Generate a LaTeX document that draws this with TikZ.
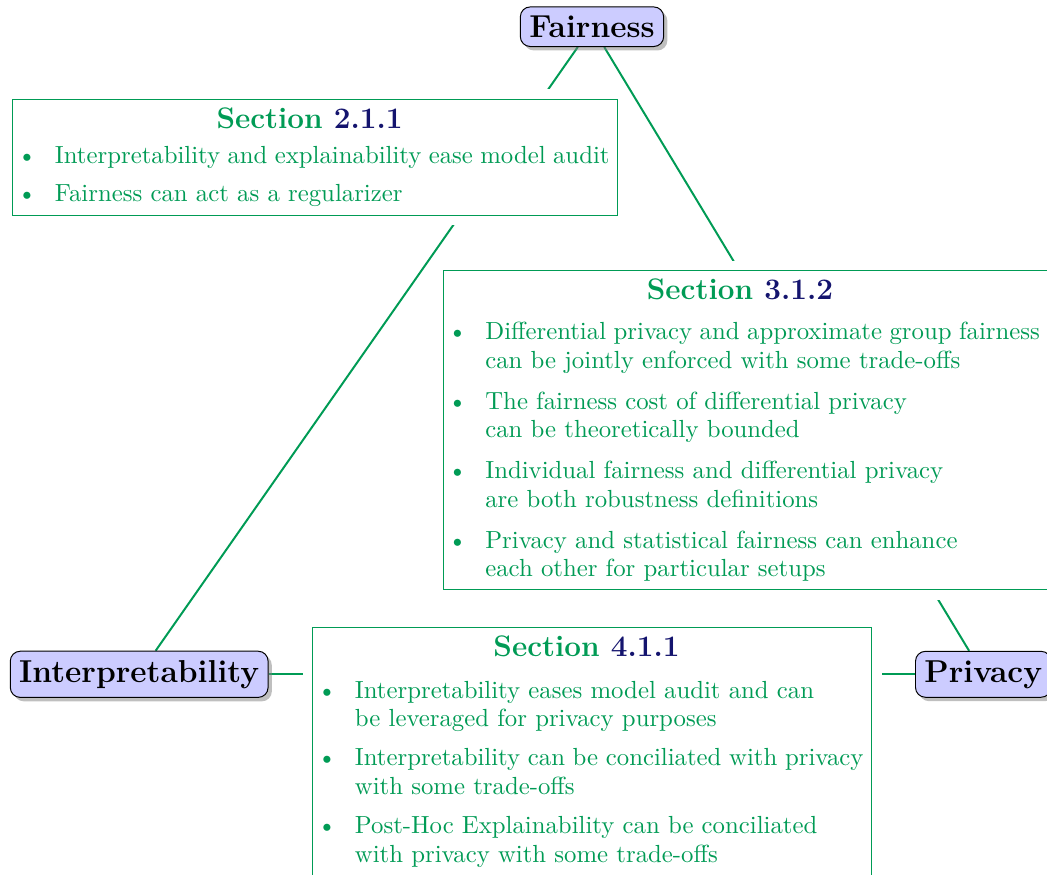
\documentclass[tikz,border=0pt]{standalone}
\usepackage{enumitem}
\usetikzlibrary{shadows,backgrounds}
\definecolor{secgreen}{RGB}{0,155,85}
\definecolor{secnavy}{RGB}{20,20,110}
\definecolor{topicfill}{RGB}{204,204,255}
\newcommand{\sechead}[1]{{\centering\fontsize{12}{14}\selectfont\bfseries Section \textcolor{secnavy}{#1}\hspace*{4.6pt}\par}}
\newenvironment{secitems}[2]{\begin{itemize}[leftmargin=13.7pt,labelwidth=5pt,labelsep=7.4pt,parsep=0pt,partopsep=0pt,topsep=#1,itemsep=#2]}{\end{itemize}}
\begin{document}
\begin{tikzpicture}[x=0.40388pt,y=-0.40388pt,
  topic/.style={draw=black, fill=topicfill, rounded corners=4pt,
    drop shadow={shadow xshift=1.5pt,shadow yshift=-1.6pt},
    font=\fontsize{12.8}{15}\selectfont\bfseries, inner sep=3.6pt},
  secbox/.style={draw=secgreen, fill=white, text=secgreen,
    preaction={draw=white, fill=white, line width=8pt},
    anchor=north west, align=justify, inner sep=3.33pt,
    font=\fontsize{10}{11.6}\selectfont},
  link/.style={draw=secgreen, thick}]
\useasboundingbox (0,0) rectangle (1047,874);

\node[topic] (fair) at (592,26.7) {Fairness};
\node[topic] (interp) at (139.2,674.3) {Interpretability};
\node[topic, anchor=west] (priv) at (915,674.3) {Privacy};

\begin{scope}[on background layer]
\draw[link] (fair) -- (interp);
\draw[link] (fair) -- (priv);
\draw[link] (interp) -- (priv);
\end{scope}

\node[secbox, text width=237.7pt] (s211) at (12.3,98.7) {\sechead{2.1.1}%
\begin{secitems}{2.5pt}{4pt}
\item Interpretability and explainability ease model audit
\item Fairness can act as a regularizer
\end{secitems}};

\node[secbox, text width=237.7pt] (s312) at (442.7,270) {\sechead{3.1.2}%
\begin{secitems}{4.55pt}{4.9pt}
\item Differential privacy and approximate group fairness\newline can be jointly enforced with some trade-offs
\item The fairness cost of differential privacy\newline can be theoretically bounded
\item Individual fairness and differential privacy\newline are both robustness definitions
\item Privacy and statistical fairness can enhance\newline each other for particular setups
\end{secitems}};

\node[secbox, text width=219.1pt] (s411) at (312.3,627.3) {\sechead{4.1.1}%
\begin{secitems}{5.1pt}{4.2pt}
\item Interpretability eases model audit and can\newline be leveraged for privacy purposes
\item Interpretability can be conciliated with privacy\newline with some trade-offs
\item Post-Hoc Explainability can be conciliated\newline with privacy with some trade-offs
\end{secitems}};
\end{tikzpicture}
\end{document}
